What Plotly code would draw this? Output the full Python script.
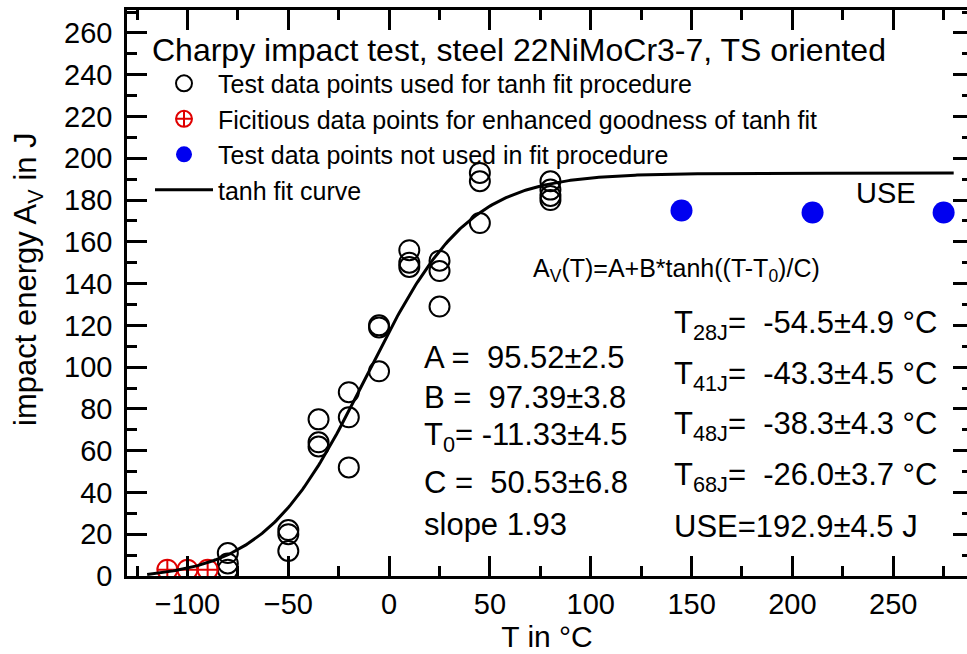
import numpy as np
import plotly.graph_objects as go

# Charpy impact energy of steel 22NiMoCr3-7 (TS orientation)
T_used = [-80, -80, -80, -50, -50, -50, -35, -35, -35, -20, -20, -20,
          -5, -5, -5, 10, 10, 10, 25, 25, 25, 45, 45, 45, 80, 80, 80, 80]
E_used = [11, 6, 3, 22, 20, 12, 75, 64, 62, 88, 76, 52,
          120, 119, 98, 156, 150, 148, 151, 146, 129, 193, 189, 169, 189, 185, 182, 180]

T_fict = [-110, -100, -90]
E_fict = [3, 3, 3]

T_unused = [145, 210, 275]
E_unused = [175, 174, 174]

# tanh fit parameters
A_fit = 95.52
B_fit = 97.39
T0_fit = -11.33
C_fit = 50.53
T_curve = np.arange(-120, 281, 1.0)
E_curve = A_fit + B_fit * np.tanh((T_curve - T0_fit) / C_fit)

FONT = "Liberation Sans, Arial, sans-serif"

fig = go.Figure()
fig.add_trace(go.Scatter(
    x=T_used, y=E_used, mode="markers",
    name="Test data points used for tanh fit procedure",
    marker=dict(symbol="circle-open", size=20, color="black", line=dict(width=2)),
))
fig.add_trace(go.Scatter(
    x=T_fict, y=E_fict, mode="markers",
    name="Ficitious data points for enhanced goodness of tanh fit",
    marker=dict(symbol="circle-cross-open", size=20, color="#e00000", line=dict(width=2)),
))
fig.add_trace(go.Scatter(
    x=T_unused, y=E_unused, mode="markers",
    name="Test data points not used in fit procedure",
    marker=dict(symbol="circle", size=22, color="#0000f0"),
))
fig.add_trace(go.Scatter(
    x=T_curve, y=E_curve, mode="lines", name="tanh fit curve",
    line=dict(color="black", width=3),
))
# right-hand tick marks only (frame line lies just outside the page)
fig.add_trace(go.Scatter(x=[None], y=[None], yaxis="y2", showlegend=False, hoverinfo="skip"))

L, R, T, B = 127, 0, 10, 78
W, H = 967, 654
pw, ph = W - L - R, H - T - B


def px(xp):
    return (xp - L) / pw


def py(yp):
    return (H - B - yp) / ph


axis_common = dict(showgrid=False, zeroline=False, ticks="inside",
                   tickwidth=2.5, ticklen=20, tickcolor="black",
                   tickfont=dict(family=FONT, size=29, color="black"))

fig.update_layout(
    width=W, height=H,
    margin=dict(l=L, r=R, t=T, b=B, pad=0),
    paper_bgcolor="white", plot_bgcolor="white",
    font=dict(family=FONT, color="black"),
    showlegend=True,
    legend=dict(
        x=px(150), y=py(19), xanchor="left", yanchor="top",
        bgcolor="rgba(0,0,0,0)", borderwidth=0,
        title=dict(text="Charpy impact test, steel 22NiMoCr3-7, TS oriented",
                   font=dict(family=FONT, size=32, color="black")),
        font=dict(family=FONT, size=25, color="black"),
        itemwidth=58,
        tracegroupgap=0,
    ),
    xaxis=dict(
        range=[-130, 286.6], tickmode="linear", tick0=0, dtick=50,
        showline=True, linewidth=2.5, linecolor="black", mirror="ticks",
        minor=dict(dtick=25, tick0=0, ticks="inside", ticklen=10, tickwidth=2.5, tickcolor="black"),
        title=dict(text="T in °C", font=dict(family=FONT, size=30, color="black"), standoff=6),
        **axis_common,
    ),
    yaxis=dict(
        range=[0, 271], tickmode="linear", tick0=0, dtick=20,
        showline=True, linewidth=2.5, linecolor="black", mirror=False,
        minor=dict(dtick=10, tick0=0, ticks="inside", ticklen=10, tickwidth=2.5, tickcolor="black"),
        ticklabelstandoff=6,
        **axis_common,
    ),
    yaxis2=dict(
        overlaying="y", side="right", range=[0, 271], tickmode="linear", tick0=0, dtick=20,
        showline=False, showgrid=False, zeroline=False, showticklabels=False,
        ticks="inside", ticklen=14, tickwidth=2.5, tickcolor="black",
        minor=dict(dtick=10, tick0=0, ticks="inside", ticklen=5, tickwidth=2.5, tickcolor="black"),
    ),
)

annotations = []


def add_text(text, xp, yp, size=31, xanchor="left", angle=0):
    annotations.append(dict(
        text=text, xref="paper", yref="paper", x=px(xp), y=py(yp),
        xanchor=xanchor, yanchor="middle", showarrow=False, textangle=angle,
        font=dict(family=FONT, size=size, color="black"),
    ))


add_text("impact energy A<sub>V</sub> in J", 28, 279, size=31, xanchor="center", angle=-90)
add_text("A<sub>V</sub>(T)=A+B*tanh((T-T<sub>0</sub>)/C)", 531, 270, size=25)
add_text("USE", 886, 193, size=29, xanchor="center")

left_col = [
    f"A =\u00a0\u00a0{A_fit:.2f}±2.5",
    f"B =\u00a0\u00a0{B_fit:.2f}±3.8",
    f"T<sub>0</sub>= {T0_fit:.2f}±4.5",
    f"C =\u00a0\u00a0{C_fit:.2f}±6.8",
    "slope 1.93",
]
left_rows = [357, 397, 437, 482, 524]
for txt, yy in zip(left_col, left_rows):
    add_text(txt, 422, yy)

right_col = [
    "T<sub>28J</sub>=\u00a0\u00a0-54.5±4.9 °C",
    "T<sub>41J</sub>=\u00a0\u00a0-43.3±4.5 °C",
    "T<sub>48J</sub>=\u00a0\u00a0-38.3±4.3 °C",
    "T<sub>68J</sub>=\u00a0\u00a0-26.0±3.7 °C",
    f"USE={A_fit + B_fit:.1f}±4.5 J",
]
right_rows = [325, 376, 426, 477, 526]
for txt, yy in zip(right_col, right_rows):
    add_text(txt, 672, yy)

fig.update_layout(annotations=annotations)

fig.write_html("out.html")
